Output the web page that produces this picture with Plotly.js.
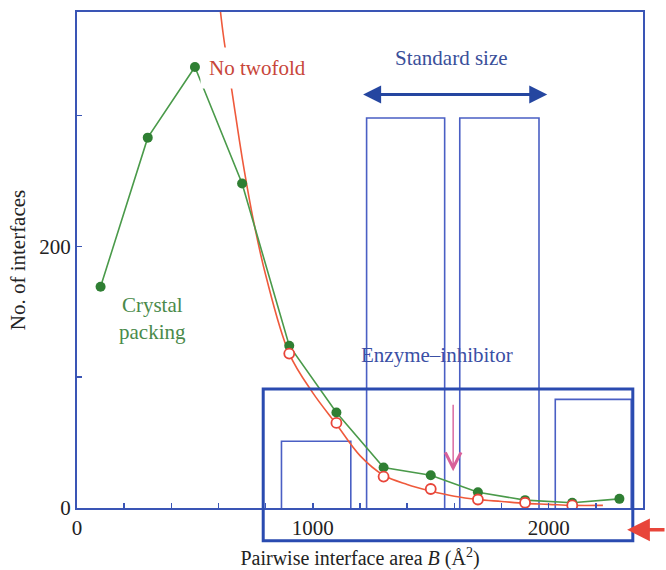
<!DOCTYPE html>
<html>
<head>
<meta charset="utf-8">
<script src="https://cdn.plot.ly/plotly-3.0.1.min.js"></script>
<style>html,body{margin:0;padding:0;background:#fff;}#chart{width:666px;height:570px;}</style>
</head>
<body>
<div id="chart"></div>
<script>
// Crystal packing (green, filled circles)
const crystalX = [100, 300, 500, 700, 900, 1100, 1300, 1500, 1700, 1900, 2100, 2300];
const crystalY = [169, 283, 337, 248, 124, 73, 31, 25, 12, 6, 4, 7];
// No twofold (red, open circles)
const twofoldX = [900, 1100, 1300, 1500, 1700, 1900, 2100];
const twofoldY = [118, 65, 24, 14.5, 6.5, 4, 2];
// Fitted curve for "No twofold" (red line)
const fitX = [590, 620, 660, 700, 750, 800, 900, 1000, 1100, 1200, 1300, 1400, 1500, 1600, 1700, 1800, 1900, 2000, 2100, 2230];
const fitY = [410, 362, 315, 268, 218, 178, 118, 88, 64, 40, 25, 18, 13, 9, 6.5, 5, 3.5, 2.8, 2, 2];
// Size-range boxes (x from, x to, height)
const boxFrom = [867, 1228, 1623, 2028];
const boxTo = [1161, 1559, 1959, 2350];
const boxTop = [51, 298, 298, 83];
// Tick labels
const xTicks = [0, 1000, 2000];
const yTicks = [0, 200];

const blue = '#3a55b5';
const font = 'Liberation Serif';
const fs = 21;

const traces = [
  {x: fitX, y: fitY, mode: 'lines', line: {color: '#ef5a3c', width: 1.6, shape: 'spline', smoothing: 1}, hoverinfo: 'skip', showlegend: false},
  {x: crystalX, y: crystalY, mode: 'lines+markers', line: {color: '#4a9a4a', width: 1.6},
   marker: {color: '#2f7f33', size: 10}, showlegend: false},
  {x: twofoldX, y: twofoldY, mode: 'markers',
   marker: {color: '#ffffff', size: 10, line: {color: '#e8453a', width: 1.8}}, showlegend: false}
];

const shapes = boxFrom.map((a, i) => ({
  type: 'path', xref: 'x', yref: 'y',
  path: `M ${a},0 L ${a},${boxTop[i]} L ${boxTo[i]},${boxTop[i]} L ${boxTo[i]},0`,
  line: {color: '#4a5fc4', width: 1.6}, layer: 'below'
}));
shapes.push({type: 'rect', xref: 'x domain', yref: 'y domain', x0: 0.329, x1: 0.982, y0: -0.066, y1: 0.24,
  line: {color: '#2a4bb0', width: 3}, fillcolor: 'rgba(0,0,0,0)', layer: 'above'});

const annotations = [
  {x: 521, y: 336, xref: 'x', yref: 'y', text: 'No twofold', showarrow: false, xanchor: 'left',
   font: {family: font, size: fs, color: '#c8463a'}, bgcolor: '#ffffff', borderpad: 8},
  {x: 322, y: 145, xref: 'x', yref: 'y', text: 'Crystal<br>packing', showarrow: false,
   font: {family: font, size: fs, color: '#4a8a4a'}},
  {x: 1589, y: 344, xref: 'x', yref: 'y', text: 'Standard size', showarrow: false,
   font: {family: font, size: fs, color: '#3a4f9a'}},
  {x: 1525, y: 117, xref: 'x', yref: 'y', text: 'Enzyme–inhibitor', showarrow: false,
   font: {family: font, size: fs, color: '#3a4fa5'}},
  {x: 1994, y: 316, ax: 1207, ay: 316, xref: 'x', yref: 'y', axref: 'x', ayref: 'y', text: '',
   showarrow: true, arrowside: 'end+start', arrowhead: 2, arrowsize: 1.2, arrowwidth: 3, arrowcolor: '#2546a0'},
  {x: 1595, y: 28, ax: 1595, ay: 80, xref: 'x', yref: 'y', axref: 'x', ayref: 'y', text: '',
   showarrow: true, arrowhead: 5, arrowsize: 2.2, arrowwidth: 1.4, arrowcolor: '#d8609a'},
  {x: 0.972, y: -0.044, xref: 'paper', yref: 'paper', ax: 45, ay: 0, text: '',
   showarrow: true, arrowhead: 2, arrowsize: 1.3, arrowwidth: 3.5, arrowcolor: '#e8453a'}
];

const layout = {
  width: 666, height: 570,
  margin: {l: 77, r: 23, t: 12, b: 62},
  paper_bgcolor: '#ffffff', plot_bgcolor: '#ffffff',
  font: {family: font, size: fs, color: '#222'},
  xaxis: {
    range: [0, 2400], showgrid: false, zeroline: false,
    tickvals: xTicks, ticktext: xTicks.map(String),
    ticks: 'inside', ticklen: 5, tickwidth: 1.5, tickcolor: blue,
    minor: {dtick: 200, ticks: 'inside', ticklen: 5, tickwidth: 1.5, tickcolor: blue},
    showline: true, linecolor: blue, linewidth: 2, mirror: true,
    tickfont: {family: font, size: fs, color: '#222'},
    title: {text: 'Pairwise interface area <i>B</i> (Å<sup>2</sup>)', font: {family: font, size: 20, color: '#222'}, standoff: 12}
  },
  yaxis: {
    range: [0, 379], showgrid: false, zeroline: false,
    tickvals: yTicks, ticktext: yTicks.map(String),
    ticks: 'inside', ticklen: 5, tickwidth: 1.5, tickcolor: blue,
    minor: {dtick: 100, ticks: 'inside', ticklen: 5, tickwidth: 1.5, tickcolor: blue},
    showline: true, linecolor: blue, linewidth: 2, mirror: true,
    tickfont: {family: font, size: fs, color: '#222'},
    title: {text: 'No. of interfaces', font: {family: font, size: fs, color: '#222'}, standoff: 8}
  },
  shapes: shapes,
  annotations: annotations,
  showlegend: false
};

Plotly.newPlot('chart', traces, layout, {displayModeBar: false, staticPlot: true});
</script>
</body>
</html>
